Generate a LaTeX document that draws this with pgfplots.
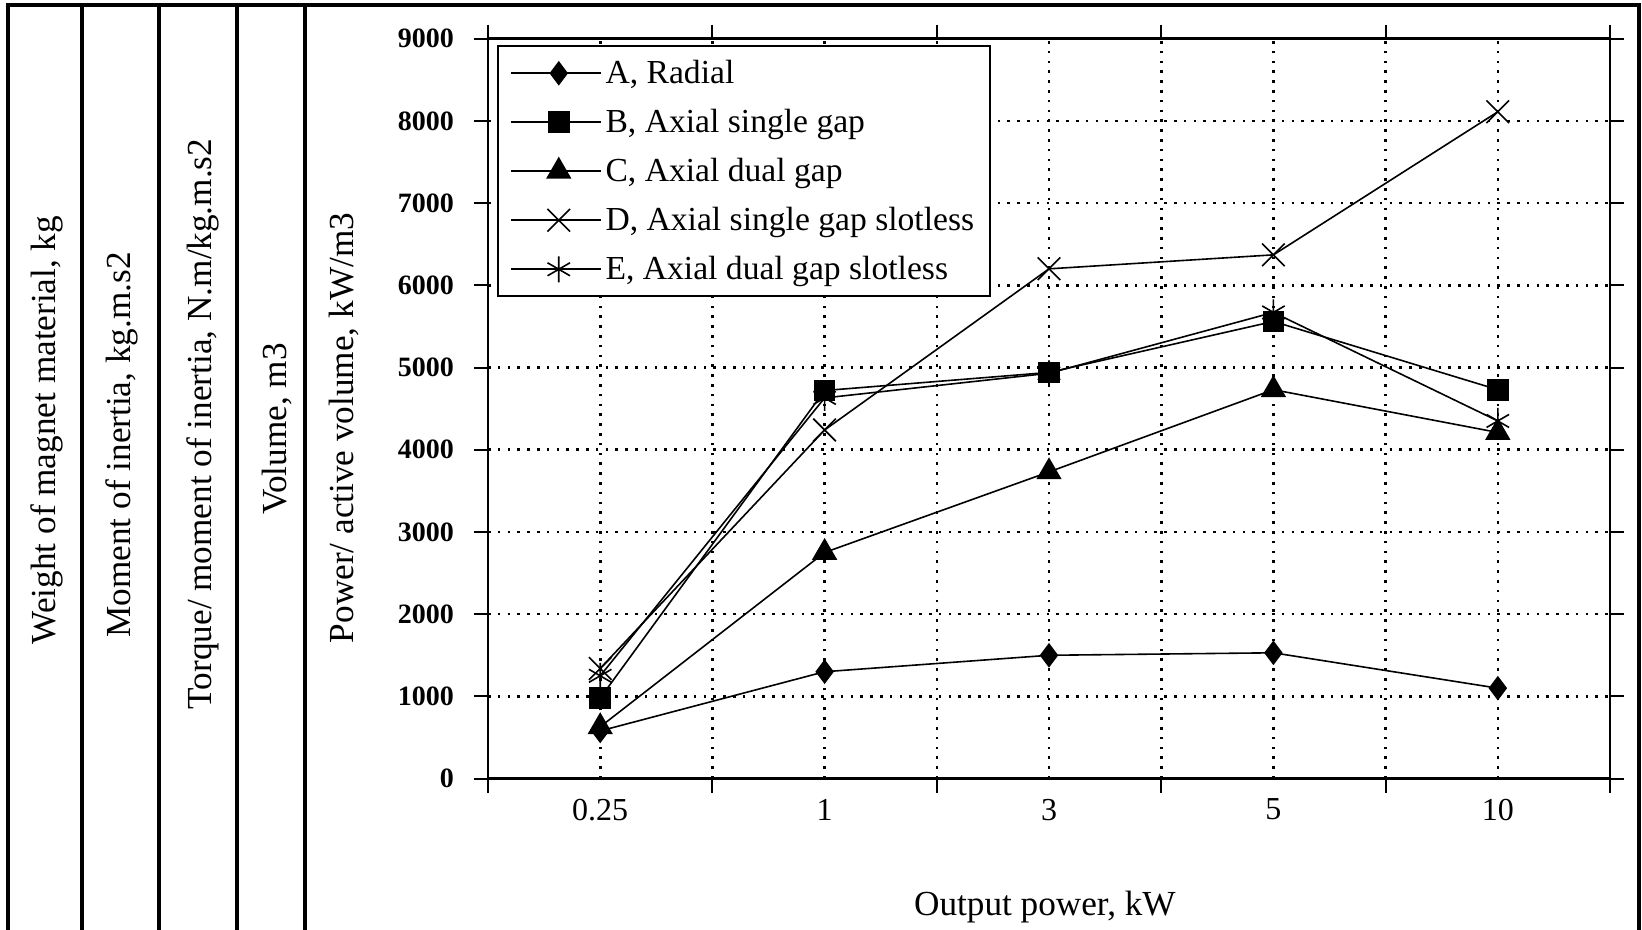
\documentclass[border=0pt]{standalone}
\usepackage{pgfplots}
\pgfplotsset{compat=1.18}
\usepackage{fontspec}
\setmainfont{Liberation Serif}
\begin{document}
\begin{tikzpicture}
\path[use as bounding box] (0pt,0pt) rectangle (821pt,-465pt);
\begin{axis}[
  at={(244pt,-389.3pt)}, anchor=south west,
  scale only axis, width=561pt, height=370pt,
  xmin=-0.5, xmax=4.5, ymin=0, ymax=9000,
  xtick={-0.5,0.5,1.5,2.5,3.5,4.5}, xticklabels={},
  extra x ticks={0,1,2,3,4},
  extra x tick labels={0.25,1,3,5,10},
  extra x tick style={major tick length=0pt, grid=major},
  ytick={0,1000,...,9000},
  scaled y ticks=false,
  /pgf/number format/assume math mode=true,
  /pgf/number format/set thousands separator={},
  tick align=outside, major tick length=7pt,
  tick style={black, line width=1pt},
  xmajorgrids, ymajorgrids,
  grid style={black, line width=1.3pt, dash pattern=on 1.3pt off 3.6pt},
  axis line style={black, line width=1.3pt},
  yticklabel style={font=\fontsize{14}{16}\selectfont\bfseries, xshift=-6.5pt},
  xticklabel style={font=\fontsize{16}{18}\selectfont, yshift=-6.6pt},
  xlabel={Output power, kW},
  xlabel style={at={(axis description cs:0.4964,-0.1735)}, anchor=center, font=\fontsize{17.6}{20}\selectfont},
  ylabel={Power/ active volume, kW/m3},
  ylabel style={at={(axis description cs:-0.1283,0.4738)}, anchor=center, font=\fontsize{17.6}{20}\selectfont},
  legend style={at={(0.008,0.991)}, anchor=north west, draw=black, line width=1pt,
    font=\fontsize{16.8}{19}\selectfont, inner xsep=6pt, inner ysep=4pt, row sep=5.5pt,
    nodes={text height=12.5pt, text depth=2.5pt}},
  legend cell align=left,
  legend image code/.code={\path (0pt,0pt) -- (45pt,0pt); \draw[line width=0.8pt, mark repeat=2, mark phase=2] plot coordinates {(5pt,0pt) (24pt,0pt) (43pt,0pt)};},
  every axis plot/.append style={black, line width=0.8pt},
]
\addplot[mark=diamond*, mark size=5.5pt, mark options={solid, fill=black}] coordinates {(0,580) (1,1300) (2,1500) (3,1530) (4,1100)};
\addlegendentry{A, Radial}
\addplot[mark=square*, mark size=5pt, mark options={solid, fill=black}] coordinates {(0,980) (1,4720) (2,4940) (3,5560) (4,4730)};
\addlegendentry{B, Axial single gap}
\addplot[mark=triangle*, mark size=6.5pt, mark options={solid, fill=black}] coordinates {(0,630) (1,2750) (2,3730) (3,4730) (4,4210)};
\addlegendentry{C, Axial dual gap}
\addplot[mark=x, mark size=8pt, mark options={solid}] coordinates {(0,1340) (1,4240) (2,6200) (3,6370) (4,8110)};
\addlegendentry{D, Axial single gap slotless}
\addplot[mark=asterisk, mark size=6.5pt, mark options={solid}] coordinates {(0,1250) (1,4630) (2,4930) (3,5670) (4,4350)};
\addlegendentry{E, Axial dual gap slotless}
\end{axis}
\begin{scope}[x=0.5pt,y=-0.5pt]
\draw[line width=2pt] (8,940) -- (8,5) -- (1639,5) -- (1639,940);
\foreach \xx in {82,159,237,305} \draw[line width=2pt] (\xx,5) -- (\xx,940);
\node[rotate=90, font=\fontsize{17.6}{20}\selectfont] at (47,430) {Weight of magnet material, kg};
\node[rotate=90, font=\fontsize{17.6}{20}\selectfont] at (122,445) {Moment of inertia, kg.m.s2};
\node[rotate=90, font=\fontsize{17.6}{20}\selectfont] at (203,424) {Torque/ moment of inertia, N.m/kg.m.s2};
\node[rotate=90, font=\fontsize{17.6}{20}\selectfont] at (277,429) {Volume, m3};
\end{scope}
\end{tikzpicture}
\end{document}
